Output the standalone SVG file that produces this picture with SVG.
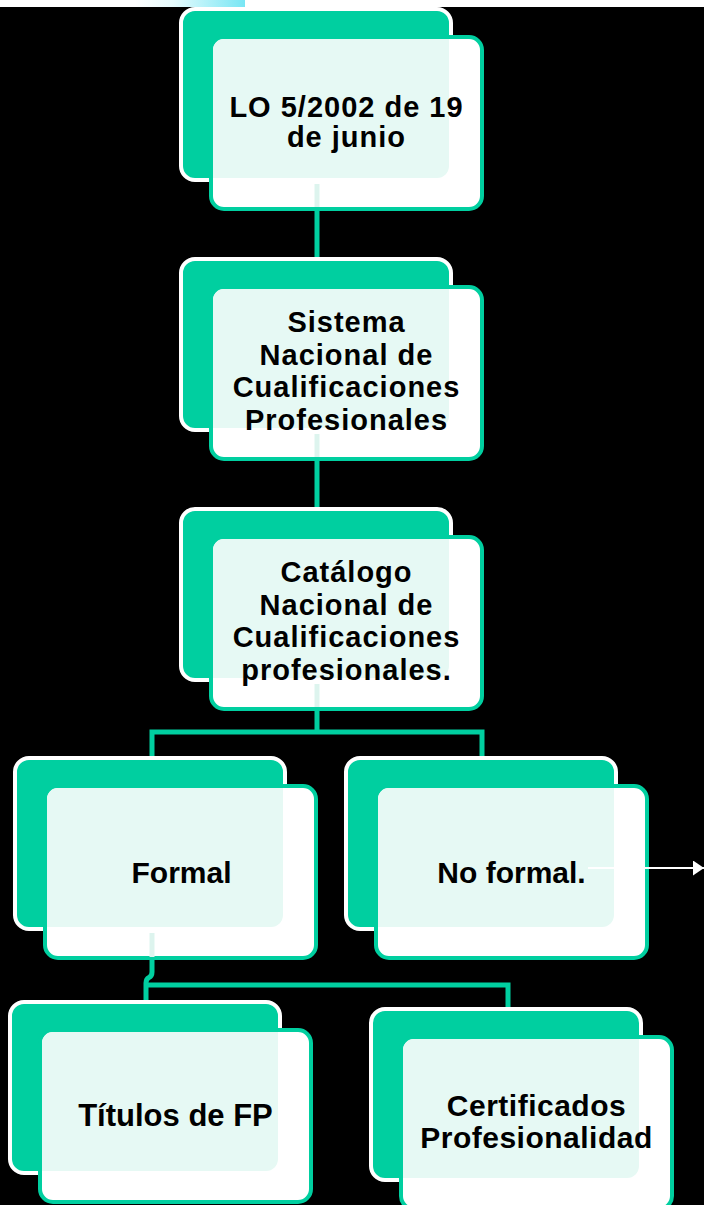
<svg xmlns="http://www.w3.org/2000/svg" width="704" height="1205" viewBox="0 0 704 1205">
<defs>
<style>
.back{fill:#00CFA0;stroke:#FFFFFF;stroke-width:4}
.front{fill:#FFFFFF;stroke:#00CFA0;stroke-width:4}
.mint{fill:#E6F9F4}
.faint{stroke:#DDF4EE;stroke-width:5;fill:none}
.conn{stroke:#00CFA0;stroke-width:5;fill:none}
.t{font-family:"Liberation Sans",Arial,sans-serif;font-weight:bold;fill:#000;text-anchor:middle}
.s1{font-size:29px;letter-spacing:1px}
.s2{font-size:29px;letter-spacing:1px}
.s3{font-size:30px}
.s4{font-size:31px}
.s5{font-size:30px;letter-spacing:0.5px}
</style>
<clipPath id="fc" clipPathUnits="userSpaceOnUse">
<rect x="34" y="32" width="267" height="168" rx="11"/>
</clipPath>
<linearGradient id="topg" x1="0" y1="0" x2="1" y2="0">
<stop offset="0" stop-color="#FFFFFF"/>
<stop offset="0.35" stop-color="#E6FBFD"/>
<stop offset="1" stop-color="#78E6F4"/>
</linearGradient>
<marker id="arr" markerUnits="userSpaceOnUse" markerWidth="12" markerHeight="16" refX="11" refY="7.5" orient="auto">
<path d="M0,0 L11,7.5 L0,15 Z" fill="#FFFFFF"/>
</marker>
</defs>
<rect x="0" y="0" width="704" height="1205" fill="#000000"/>
<rect x="0" y="0" width="704" height="7" fill="#FFFFFF"/>
<rect x="135" y="0" width="110" height="7" fill="url(#topg)"/>

<g id="n1" transform="translate(179,7)">
<rect class="back" x="2" y="2" width="270" height="171" rx="14"/>
<rect class="front" x="32" y="30" width="271" height="172" rx="13"/>
<rect class="mint" x="4" y="4" width="266" height="167" rx="12" clip-path="url(#fc)"/>
<text class="t s1" x="167.5" y="110">LO 5/2002 de 19</text>
<text class="t s1" x="167.5" y="140">de junio</text>
</g>

<g id="n2" transform="translate(179,257)">
<rect class="back" x="2" y="2" width="270" height="171" rx="14"/>
<rect class="front" x="32" y="30" width="271" height="172" rx="13"/>
<rect class="mint" x="4" y="4" width="266" height="167" rx="12" clip-path="url(#fc)"/>
<text class="t s2" x="167.5" y="75">Sistema</text>
<text class="t s2" x="167.5" y="108">Nacional de</text>
<text class="t s2" x="167.5" y="140">Cualificaciones</text>
<text class="t s2" x="167.5" y="173">Profesionales</text>
</g>

<g id="n3" transform="translate(179,507)">
<rect class="back" x="2" y="2" width="270" height="171" rx="14"/>
<rect class="front" x="32" y="30" width="271" height="172" rx="13"/>
<rect class="mint" x="4" y="4" width="266" height="167" rx="12" clip-path="url(#fc)"/>
<text class="t s2" x="167.5" y="75">Catálogo</text>
<text class="t s2" x="167.5" y="108">Nacional de</text>
<text class="t s2" x="167.5" y="140">Cualificaciones</text>
<text class="t s2" x="167.5" y="173">profesionales.</text>
</g>

<g id="n4" transform="translate(13,756)">
<rect class="back" x="2" y="2" width="270" height="171" rx="14"/>
<rect class="front" x="32" y="30" width="271" height="172" rx="13"/>
<rect class="mint" x="4" y="4" width="266" height="167" rx="12" clip-path="url(#fc)"/>
<text class="t s3" x="168.5" y="127.3">Formal</text>
</g>

<g id="n5" transform="translate(344,756)">
<rect class="back" x="2" y="2" width="270" height="171" rx="14"/>
<rect class="front" x="32" y="30" width="271" height="172" rx="13"/>
<rect class="mint" x="4" y="4" width="266" height="167" rx="12" clip-path="url(#fc)"/>
<text class="t s3" x="167.5" y="127">No formal.</text>
</g>

<g id="n6" transform="translate(8,1000)">
<rect class="back" x="2" y="2" width="270" height="171" rx="14"/>
<rect class="front" x="32" y="30" width="271" height="172" rx="13"/>
<rect class="mint" x="4" y="4" width="266" height="167" rx="12" clip-path="url(#fc)"/>
<text class="t s4" x="167.5" y="125.7">Títulos de FP</text>
</g>

<g id="n7" transform="translate(369,1007)">
<rect class="back" x="2" y="2" width="270" height="171" rx="14"/>
<rect class="front" x="32" y="30" width="271" height="172" rx="13"/>
<rect class="mint" x="4" y="4" width="266" height="167" rx="12" clip-path="url(#fc)"/>
<text class="t s5" x="167.5" y="108.7">Certificados</text>
<text class="t s5" x="167.5" y="141.3">Profesionalidad</text>
</g>

<g id="connectors">
<line class="faint" x1="317" y1="184" x2="317" y2="207"/>
<line class="faint" x1="317" y1="434" x2="317" y2="457"/>
<line class="faint" x1="317" y1="684" x2="317" y2="707"/>
<line class="faint" x1="152" y1="933" x2="152" y2="957"/>
<line class="conn" x1="317" y1="209" x2="317" y2="257"/>
<line class="conn" x1="317" y1="459" x2="317" y2="507"/>
<path class="conn" d="M317 709 V732 M152 756 V732 H482 V756"/>
<path class="conn" d="M152 958 V972 Q152 976 149 977.5 Q146 979 146 983 V1000"/>
<path class="conn" d="M146 985 H508 V1007"/>
<line x1="588" y1="868" x2="704" y2="868" stroke="#FFFFFF" stroke-width="2" marker-end="url(#arr)"/>
</g>
</svg>
